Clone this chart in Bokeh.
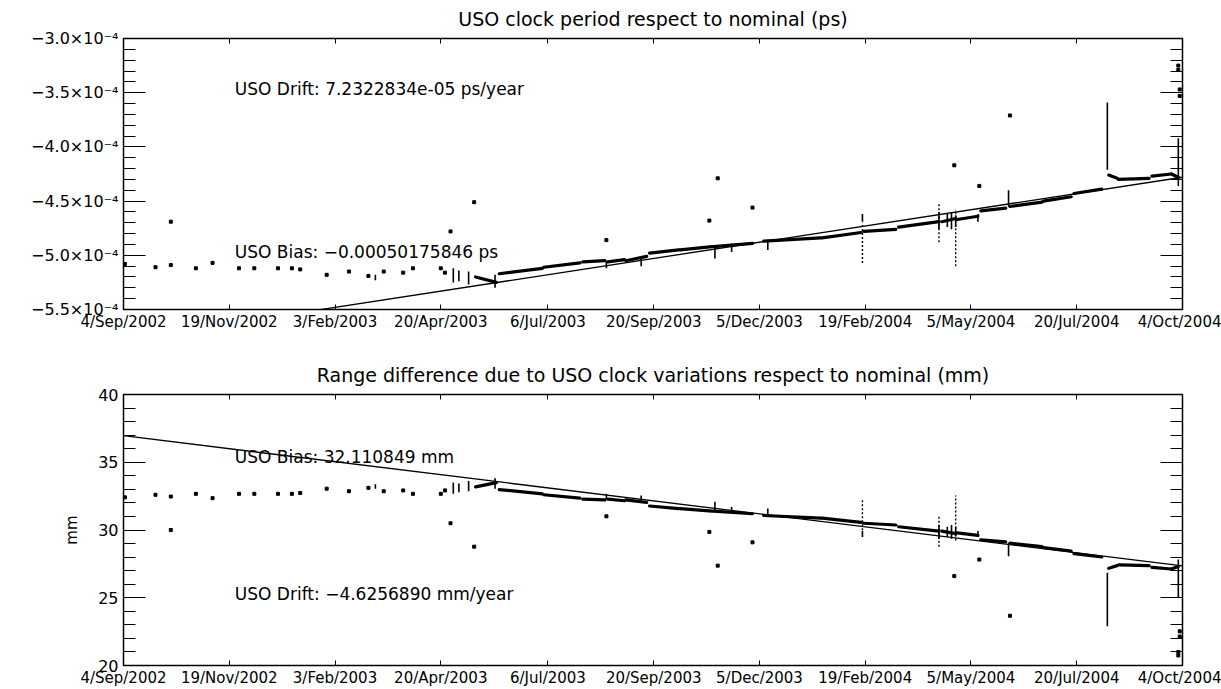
from bokeh.plotting import figure
from bokeh.layouts import column
from bokeh.models import FixedTicker, LinearAxis, Label, Range1d, CustomLabelingPolicy
from bokeh.embed import file_html
from bokeh.resources import INLINE

FONT = "DejaVu Sans"

# ---------------- x axis (days since 4/Sep/2002) ----------------
TICK_DAYS = [0, 76, 152, 228, 305, 381, 457, 533, 609, 685, 761]
TICK_LABELS = ["4/Sep/2002", "19/Nov/2002", "3/Feb/2003", "20/Apr/2003", "6/Jul/2003",
               "20/Sep/2003", "5/Dec/2003", "19/Feb/2004", "5/May/2004", "20/Jul/2004",
               "4/Oct/2004"]

# ---------------- top panel: USO clock period (units of 1e-4 ps) ----------------
TOP_TICKS = [-5.5, -5.0, -4.5, -4.0, -3.5, -3.0]
TOP_TICK_LABELS = ["−5.5×10⁻⁴", "−5.0×10⁻⁴", "−4.5×10⁻⁴", "−4.0×10⁻⁴", "−3.5×10⁻⁴", "−3.0×10⁻⁴"]

top_pt_day = [1, 23, 34, 34, 52, 64, 83, 94, 111, 121, 127, 146, 162, 176, 187, 201, 208, 228,
              231, 235, 252, 347, 421, 427, 452, 597, 615, 637, 758, 758, 759, 759]
top_pt_val = [-5.08, -5.11, -5.09, -4.69, -5.12, -5.07, -5.12, -5.12, -5.12, -5.12, -5.13, -5.18,
              -5.15, -5.19, -5.15, -5.16, -5.12, -5.12, -5.16, -4.78, -4.51, -4.86, -4.68, -4.29,
              -4.56, -4.17, -4.36, -3.71, -3.25, -3.29, -3.47, -3.53]

top_run_d0 = [253, 270, 302, 330, 348, 361, 378, 400, 424, 460, 502, 532, 557, 588, 599, 616, 637, 661, 683, 708, 715, 739, 753]
top_run_d1 = [268, 301, 328, 346, 360, 376, 399, 423, 452, 501, 530, 555, 586, 598, 614, 634, 660, 681, 703, 714, 737, 753, 758]
top_run_v0 = [-5.20, -5.17, -5.11, -5.06, -5.06, -5.05, -4.98, -4.95, -4.92, -4.87, -4.84, -4.78, -4.74,
              -4.69, -4.67, -4.59, -4.55, -4.50, -4.43, -4.26, -4.30, -4.27, -4.25]
top_run_v1 = [-5.25, -5.12, -5.07, -5.05, -5.04, -5.01, -4.95, -4.92, -4.89, -4.84, -4.79, -4.76, -4.69,
              -4.66, -4.64, -4.565, -4.51, -4.46, -4.39, -4.29, -4.29, -4.25, -4.28]

top_spk_day = [181, 237, 241, 248, 267, 347, 372, 425, 437, 463, 531, 586, 592, 595, 598, 614, 636, 707, 758]
top_spk_lo = [-5.23, -5.25, -5.24, -5.27, -5.30, -5.12, -5.10, -5.03, -4.97, -4.95, -4.69, -4.76, -4.74,
              -4.76, -4.74, -4.69, -4.55, -4.21, -4.36]
top_spk_hi = [-5.18, -5.12, -5.14, -5.15, -5.18, -5.06, -5.02, -4.92, -4.89, -4.86, -4.62, -4.60, -4.62,
              -4.60, -4.63, -4.62, -4.40, -3.59, -3.92]

top_dot_day = [531, 586, 598]
top_dot_lo = [-5.07, -4.88, -5.10]
top_dot_hi = [-4.70, -4.51, -4.58]

top_trend_day = [0, 761]
top_trend_val = [-5.78, -4.28]

# ---------------- bottom panel: range difference (mm) ----------------
BOT_TICKS = [20, 25, 30, 35, 40]

bot_pt_day = top_pt_day
bot_pt_val = [32.41, 32.60, 32.47, 30.00, 32.67, 32.35, 32.67, 32.67, 32.67, 32.67, 32.73, 33.05,
              32.86, 33.11, 32.86, 32.92, 32.67, 32.67, 32.92, 30.50, 28.77, 31.01, 29.86, 27.37,
              29.09, 26.60, 27.82, 23.67, 20.74, 20.99, 22.14, 22.52]

bot_run_d0 = top_run_d0
bot_run_d1 = top_run_d1
bot_run_v0 = [33.18, 32.98, 32.60, 32.28, 32.28, 32.22, 31.77, 31.58, 31.39, 31.07, 30.88, 30.50, 30.24,
              29.92, 29.79, 29.28, 29.03, 28.71, 28.26, 27.18, 27.43, 27.24, 27.12]
bot_run_v1 = [33.50, 32.67, 32.35, 32.22, 32.16, 32.03, 31.58, 31.39, 31.20, 30.88, 30.56, 30.37, 29.92,
              29.73, 29.60, 29.12, 28.77, 28.45, 28.01, 27.37, 27.37, 27.12, 27.31]

bot_spk_day = top_spk_day
bot_spk_lo = [33.05, 32.67, 32.79, 32.86, 33.05, 32.28, 32.03, 31.39, 31.20, 31.01, 29.48, 29.35, 29.48,
              29.35, 29.54, 29.48, 28.07, 22.90, 25.01]
bot_spk_hi = [33.37, 33.50, 33.43, 33.62, 33.81, 32.67, 32.54, 32.09, 31.70, 31.58, 29.92, 30.37, 30.24,
              30.37, 30.24, 29.92, 29.03, 26.84, 27.82]

bot_dot_day = top_dot_day
bot_dot_lo = [29.99, 28.77, 29.22]
bot_dot_hi = [32.35, 31.13, 32.54]

bot_trend_day = [0, 761]
bot_trend_val = [36.96, 27.35]

NO_LABELS = CustomLabelingPolicy(code="""
for (let i = 0; i < indices.size; i++) { indices.unset(i) }
return indices
""")


def style_axes(p, yticks, ylabels, minor):
    xt = FixedTicker(ticks=TICK_DAYS, minor_ticks=[])
    overrides = {d: l for d, l in zip(TICK_DAYS, TICK_LABELS)}
    yt = FixedTicker(ticks=yticks, minor_ticks=minor)
    for ax in p.below:
        ax.ticker = xt
        ax.major_label_overrides = overrides
        ax.major_tick_in = 5
        ax.major_tick_out = 0
        ax.minor_tick_in = 0
        ax.minor_tick_out = 0
        ax.major_label_standoff = 3
        ax.major_label_text_font = FONT
        ax.major_label_text_font_size = "15px"
        ax.major_label_text_color = "black"
        ax.axis_line_color = "black"
        ax.major_tick_line_color = "black"
    for ax in p.left:
        ax.ticker = yt
        if ylabels is not None:
            ax.major_label_overrides = {t: l for t, l in zip(yticks, ylabels)}
        ax.major_tick_in = 22
        ax.major_tick_out = 0
        ax.minor_tick_in = 12
        ax.minor_tick_out = 0
        ax.major_label_standoff = 5
        ax.major_label_text_font = FONT
        ax.major_label_text_font_size = "16px"
        ax.major_label_text_color = "black"
        ax.axis_line_color = "black"
        ax.major_tick_line_color = "black"
        ax.minor_tick_line_color = "black"
    top = LinearAxis(ticker=FixedTicker(ticks=TICK_DAYS, minor_ticks=[]),
                     major_label_policy=NO_LABELS,
                     major_label_text_font_size="1px", major_label_standoff=0,
                     major_tick_in=5, major_tick_out=0, minor_tick_in=0, minor_tick_out=0,
                     axis_line_color="black", major_tick_line_color="black")
    p.add_layout(top, "above")
    right = LinearAxis(ticker=FixedTicker(ticks=yticks, minor_ticks=minor),
                       major_label_policy=NO_LABELS,
                       major_label_text_font_size="1px", major_label_standoff=0,
                       major_tick_in=22, major_tick_out=0, minor_tick_in=12, minor_tick_out=0,
                       axis_line_color="black", major_tick_line_color="black",
                       minor_tick_line_color="black")
    p.add_layout(right, "right")
    p.xgrid.visible = False
    p.ygrid.visible = False
    p.outline_line_color = "black"
    p.outline_line_width = 1.5
    p.background_fill_color = "white"
    p.border_fill_color = "white"
    p.title.align = "center"
    p.title.text_font = FONT
    p.title.text_font_size = "19px"
    p.title.text_font_style = "normal"
    p.title.text_color = "black"


def draw(p, pd, pv, rd0, rd1, rv0, rv1, sd, slo, shi, dd, dlo, dhi, td, tv):
    p.line(td, tv, line_color="black", line_width=1.3)
    p.segment(x0=rd0, x1=rd1, y0=rv0, y1=rv1, line_color="black", line_width=3.2,
              line_cap="round")
    p.segment(x0=sd, x1=sd, y0=slo, y1=shi, line_color="black", line_width=1.6)
    p.segment(x0=dd, x1=dd, y0=dlo, y1=dhi, line_color="black", line_width=1.4, line_dash="2 2")
    p.scatter(pd, pv, marker="square", size=3, color="black")


top_minor = [round(-5.5 + 0.1 * i, 2) for i in range(26)]
bot_minor = list(range(20, 41))

p1 = figure(width=1221, height=345, output_backend="svg", toolbar_location=None,
            x_range=Range1d(0, 761), y_range=Range1d(-5.5, -3.0),
            min_border_left=123, min_border_right=39, min_border_top=33, min_border_bottom=36,
            title="USO clock period respect to nominal (ps)")
style_axes(p1, TOP_TICKS, TOP_TICK_LABELS, top_minor)
draw(p1, top_pt_day, top_pt_val, top_run_d0, top_run_d1, top_run_v0, top_run_v1,
     top_spk_day, top_spk_lo, top_spk_hi, top_dot_day, top_dot_lo, top_dot_hi,
     top_trend_day, top_trend_val)
p1.add_layout(Label(x=80, y=-3.47, text="USO Drift: 7.2322834e-05 ps/year", text_font=FONT,
                    text_font_size="17px", text_baseline="middle", text_color="black"))
p1.add_layout(Label(x=80, y=-4.97, text="USO Bias: −0.00050175846 ps", text_font=FONT,
                    text_font_size="17px", text_baseline="middle", text_color="black"))

p2 = figure(width=1221, height=344, output_backend="svg", toolbar_location=None,
            x_range=Range1d(0, 761), y_range=Range1d(20, 40),
            min_border_left=123, min_border_right=39, min_border_top=49, min_border_bottom=19,
            title="Range difference due to USO clock variations respect to nominal (mm)")
style_axes(p2, BOT_TICKS, None, bot_minor)
p2.yaxis[0].axis_label = "mm"
p2.yaxis[0].axis_label_text_font = FONT
p2.yaxis[0].axis_label_text_font_size = "15px"
p2.yaxis[0].axis_label_text_font_style = "normal"
p2.yaxis[0].axis_label_text_color = "black"
p2.yaxis[0].axis_label_standoff = 14
draw(p2, bot_pt_day, bot_pt_val, bot_run_d0, bot_run_d1, bot_run_v0, bot_run_v1,
     bot_spk_day, bot_spk_lo, bot_spk_hi, bot_dot_day, bot_dot_lo, bot_dot_hi,
     bot_trend_day, bot_trend_val)
p2.add_layout(Label(x=80, y=35.36, text="USO Bias: 32.110849 mm", text_font=FONT,
                    text_font_size="17px", text_baseline="middle", text_color="black"))
p2.add_layout(Label(x=80, y=25.29, text="USO Drift: −4.6256890 mm/year", text_font=FONT,
                    text_font_size="17px", text_baseline="middle", text_color="black"))

layout = column(p1, p2, spacing=0)
open("out.html", "w").write(file_html(layout, INLINE))
